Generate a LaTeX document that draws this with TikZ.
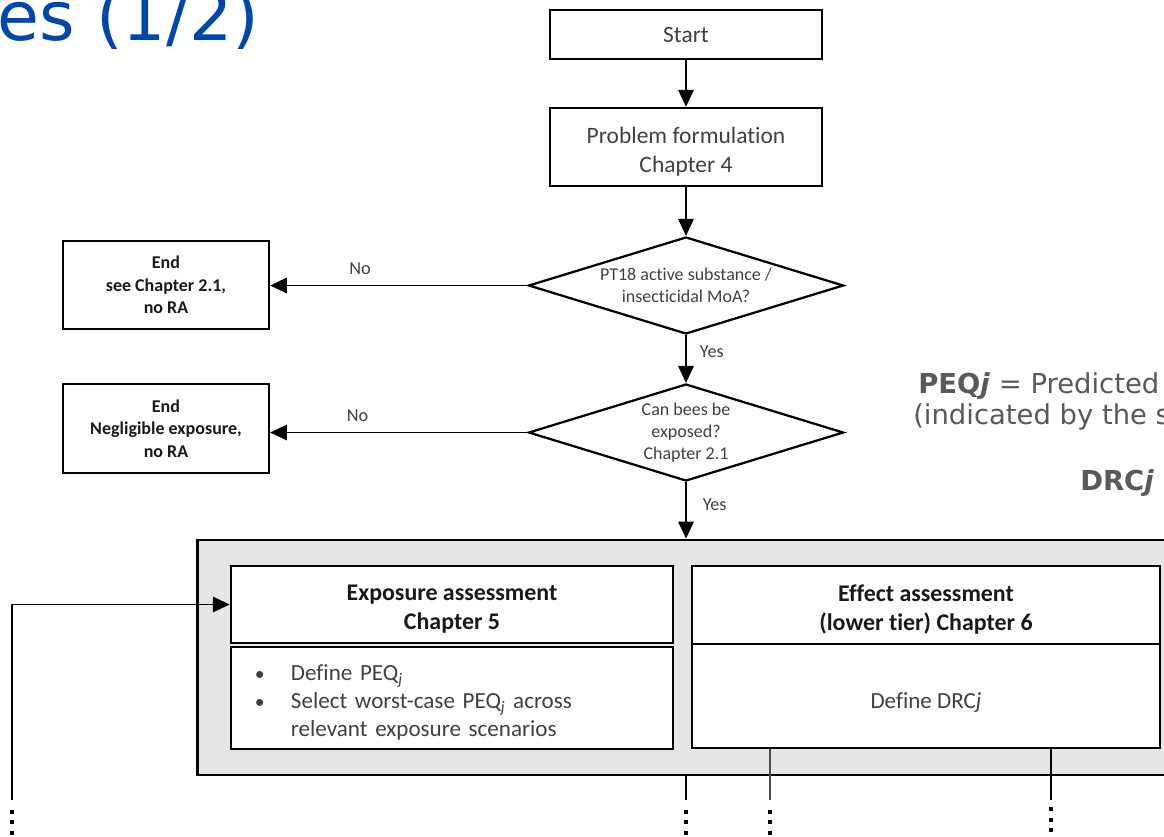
\documentclass[tikz,border=0pt]{standalone}
\usepackage{fontspec}
\setmainfont{Carlito}[Ligatures=NoCommon]
\newfontfamily\verd{DejaVu Sans}
\usetikzlibrary{shapes.geometric,arrows.meta}
\definecolor{txt}{RGB}{64,64,64}
\definecolor{btxt}{RGB}{25,25,25}
\definecolor{ttl}{RGB}{0,70,173}
\definecolor{sidetxt}{RGB}{89,89,89}
\definecolor{panel}{RGB}{230,230,230}
\newcommand\lowstrut{\rule{0pt}{18pt}}
\newcommand\bul{\makebox[0.9cm][l]{\fontsize{14}{14}\selectfont•}}
\tikzset{
  flowbox/.style={draw, line width=1.8pt, fill=white, inner sep=0pt, align=center, text=txt,
    font=\fontsize{16.7}{20.6}\selectfont},
  endbox/.style={draw, line width=1.5pt, inner sep=0pt, align=center, text=btxt,
    minimum width=5.15cm, font=\bfseries\fontsize{12.8}{16}\selectfont},
  decision/.style={diamond, draw, line width=1.6pt, inner sep=0pt, align=center, text=txt,
    shape aspect=3.25, minimum width=7.875cm, minimum height=2.425cm,
    font=\fontsize{12.8}{15.5}\selectfont},
  headbox/.style={draw, line width=1.8pt, fill=white, inner sep=0pt, align=center, text=btxt,
    font=\bfseries\fontsize{17}{20.6}\selectfont},
  bodybox/.style={draw, line width=1.8pt, fill=white, inner sep=0pt, text=txt,
    font=\fontsize{16.4}{20}\selectfont},
  arrowline/.style={line width=1.2pt, -{Triangle[length=12pt,width=11pt]}},
  lbl/.style={text=txt, font=\fontsize{13}{15}\selectfont},
  sidelbl/.style={anchor=base west, text=sidetxt, inner sep=0pt, font=\verd\fontsize{19.5}{23}\selectfont},
  dotline/.style={line width=2.2pt, dash pattern=on 2.8pt off 4.6pt},
}
\begin{document}
\begin{tikzpicture}[x=0.025cm,y=-0.025cm]
\useasboundingbox (0,0) rectangle (1164,836);

% title fragment
\node[anchor=base west, inner sep=0pt, text=ttl, font=\verd\fontsize{48.5}{55}\selectfont] (title) at (-3,40) {es (1/2)};

% side notes
\node[sidelbl] (peq) at (918,393) {\textbf{PEQ\textit{j}} = Predicted};
\node[sidelbl] (ind) at (913,424) {(indicated by the s};
\node[sidelbl] (drc) at (1080,490) {\textbf{DRC\textit{j}}};

% main flow
\node[flowbox, minimum width=6.8cm, minimum height=1.225cm] (start) at (686,34.5) {Start};
\node[flowbox, minimum width=6.8cm, minimum height=1.95cm] (prob) at (686,147) {\lowstrut Problem formulation\\Chapter 4};
\node[decision] (d1) at (686,285.5) {PT18 active substance /\\insecticidal MoA?};
\node[decision] (d2) at (686,432.5) {Can bees be\\exposed?\\Chapter 2.1};
\node[endbox, minimum height=2.2cm] (e1) at (166,285) {End\\see Chapter 2.1,\\no RA};
\node[endbox, minimum height=2.225cm] (e2) at (166,428.5) {End\\Negligible\ exposure,\\no RA};

% assessment panel
\node[draw, line width=2pt, fill=panel, minimum width=24.425cm, minimum height=5.875cm, inner sep=0pt] (panel) at (686.5,657.5) {};
\node[headbox, minimum width=11.05cm, minimum height=1.925cm] (exph) at (452,604.5) {\lowstrut Exposure assessment\\Chapter 5};
\node[bodybox, minimum width=11.05cm, minimum height=2.55cm, text width=9.85cm, align=left] (expb) at (452,698)
  {\lowstrut\bul Define PEQ\textsubscript{\textit{j}}\\
   \bul Select worst-case PEQ\textsubscript{\textit{j}} across\\
   \hspace*{0.9cm}relevant exposure scenarios};
\node[headbox, minimum width=11.7cm, minimum height=1.95cm] (effh) at (926,605) {\lowstrut Effect assessment\\(lower tier) Chapter 6};
\node[bodybox, minimum width=11.7cm, minimum height=2.6cm, align=center] (effb) at (926,696) {\rule{0pt}{21pt}Define DRC\textit{j}};

% connectors
\draw[arrowline] (start) -- (prob);
\draw[arrowline] (prob) -- (d1);
\draw[arrowline] (d1.west) -- (d1.west -| e1.east) node[lbl, pos=0.65, above=4pt] {No};
\draw[arrowline] (d1) -- (d2) node[lbl, pos=0.35, right=6pt] {Yes};
\draw[arrowline] (d2.west) -- (d2.west -| e2.east) node[lbl, pos=0.66, above=4pt] {No};
\draw[arrowline] (d2.south) -- (d2.south |- panel.north) node[lbl, pos=0.4, right=8pt] {Yes};

% loose ends at the bottom
\coordinate (la) at (12,800);
\coordinate (lb) at (686,800);
\coordinate (lc) at (770,800);
\coordinate (ld) at (1051,800);
\draw[arrowline] (la) |- (exph.west);
\draw[line width=1.5pt] (panel.south -| lb) -- (lb);
\draw[line width=0.8pt, black!70] (effb.south -| lc) -- (lc);
\draw[line width=1.3pt] (effb.south -| ld) -- (ld);
\foreach \c in {la,lb,lc}
  \draw[dotline] ([yshift=-0.25cm]\c) -- ([yshift=-1.0cm]\c);
\draw[dotline] ([yshift=-0.18cm]ld) -- ([yshift=-0.95cm]ld);
\end{tikzpicture}
\end{document}
